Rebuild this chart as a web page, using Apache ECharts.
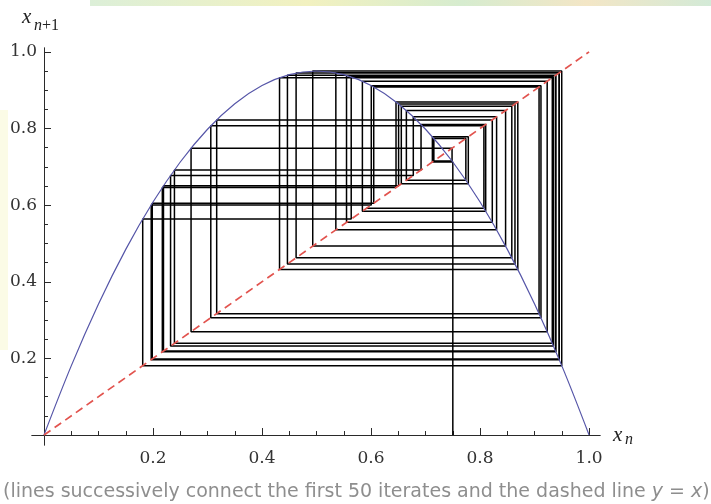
<!DOCTYPE html>
<html>
<head>
    <meta charset="utf-8" />
    <title>Logistic map cobweb</title>
    <script src="https://cdn.jsdelivr.net/npm/echarts@6/dist/echarts.min.js"></script>
    <style type="text/css">
        html,
        body {
            width: 100%;
            height: 100%;
            margin: 0;
            background: #fff;
        }

        #main {
            width: 711px;
            height: 504px;
        }
    </style>
</head>

<body>
    <div id="main"></div>
    <script>
        // iterates x0 .. x50 (x0 = 0.75)
        var iterates = [0.75, 0.7125, 0.7784, 0.6555, 0.8582, 0.4625, 0.9447, 0.1986, 0.6049, 0.9082,
            0.3168, 0.8224, 0.5550, 0.9385, 0.2192, 0.6505, 0.8640, 0.4466, 0.9392, 0.2171,
            0.6458, 0.8692, 0.4321, 0.9325, 0.2393, 0.6917, 0.8103, 0.5841, 0.9231, 0.2698,
            0.7486, 0.7152, 0.7739, 0.6648, 0.8468, 0.4930, 0.9498, 0.1811, 0.5636, 0.9346,
            0.2322, 0.6775, 0.8303, 0.5354, 0.9452, 0.1967, 0.6004, 0.9117, 0.3060, 0.8070,
            0.5919];

        // the parabola drawn in blue
        var curveX = [0, 0.05, 0.1, 0.15, 0.2, 0.25, 0.3, 0.35, 0.4, 0.45, 0.5,
            0.55, 0.6, 0.65, 0.7, 0.75, 0.8, 0.85, 0.9, 0.95, 1];
        var curveY = [0, 0.1805, 0.342, 0.4845, 0.608, 0.7125, 0.798, 0.8645, 0.912, 0.9405, 0.95,
            0.9405, 0.912, 0.8645, 0.798, 0.7125, 0.608, 0.4845, 0.342, 0.1805, 0];

        // dashed y = x
        var diagX = [0, 1];
        var diagY = [0, 1];

        var majorTicks = [0.2, 0.4, 0.6, 0.8, 1.0];
        var minorTicks = [0.05, 0.1, 0.15, 0.25, 0.3, 0.35, 0.45, 0.5, 0.55, 0.65, 0.7, 0.75, 0.85, 0.9, 0.95];

        var caption = '(lines successively connect the first 50 iterates and the dashed line ';

        // cobweb path: (x0,0) -> (x0,x1) -> (x1,x1) -> (x1,x2) ...
        var cobweb = [[iterates[0], 0]];
        for (var i = 0; i < iterates.length - 1; i++) {
            cobweb.push([iterates[i], iterates[i + 1]]);
            cobweb.push([iterates[i + 1], iterates[i + 1]]);
        }
        var curve = curveX.map(function (x, k) { return [x, curveY[k]]; });
        var diag = diagX.map(function (x, k) { return [x, diagY[k]]; });

        var axisColor = '#2a2a2a';
        var serif = 'DejaVu Serif';
        var nameFont = 'Liberation Serif';

        function makeAxis(extra) {
            var base = {
                type: 'value',
                gridIndex: 0,
                splitLine: { show: false },
                axisLine: { show: true, onZero: true, onZeroAxisIndex: 0, lineStyle: { color: axisColor, width: 1 } }
            };
            return Object.assign(base, extra);
        }

        function nameText(str, x, y, size, italic) {
            return {
                type: 'text', x: x, y: y, z: 10,
                style: {
                    text: str, fill: '#222',
                    font: (italic ? 'italic ' : '') + size + 'px "' + nameFont + '"',
                    align: 'left', verticalAlign: 'middle'
                }
            };
        }

        var myChart = echarts.init(document.getElementById('main'), null, { renderer: 'canvas' });
        var option = {
            animation: false,
            backgroundColor: '#fff',
            grid: { left: 32, right: 111, top: 48, bottom: 59, containLabel: false, outerBoundsMode: 'none' },
            xAxis: [
                makeAxis({
                    min: -0.022, max: 1.02, position: 'bottom',
                    axisTick: { show: true, inside: true, length: 7, customValues: majorTicks, lineStyle: { color: axisColor } },
                    axisLabel: {
                        show: true, customValues: majorTicks, margin: 5,
                        fontFamily: serif, fontSize: 17, color: '#333',
                        formatter: function (v) { return v.toFixed(1); }
                    }
                }),
                makeAxis({
                    min: -0.022, max: 1.02, position: 'bottom',
                    axisTick: { show: true, inside: true, length: 4, customValues: minorTicks, lineStyle: { color: axisColor } },
                    axisLabel: { show: false }
                })
            ],
            yAxis: [
                makeAxis({
                    min: -0.026, max: 1.01, position: 'left',
                    axisTick: { show: true, inside: true, length: 7, customValues: majorTicks, lineStyle: { color: axisColor } },
                    axisLabel: {
                        show: true, customValues: majorTicks, margin: -5,
                        fontFamily: serif, fontSize: 17, color: '#333',
                        formatter: function (v) { return v.toFixed(1); }
                    }
                }),
                makeAxis({
                    min: -0.026, max: 1.01, position: 'left',
                    axisTick: { show: true, inside: true, length: 4, customValues: minorTicks, lineStyle: { color: axisColor } },
                    axisLabel: { show: false }
                })
            ],
            series: [
                {
                    name: 'cobweb', type: 'line', data: cobweb,
                    xAxisIndex: 0, yAxisIndex: 0,
                    showSymbol: false, symbol: 'none',
                    lineStyle: { color: '#000', width: 1.5 },
                    z: 2
                },
                {
                    name: 'map', type: 'line', data: curve, smooth: 0.35,
                    xAxisIndex: 0, yAxisIndex: 0,
                    showSymbol: false, symbol: 'none',
                    lineStyle: { color: '#5656a8', width: 1.2 },
                    z: 3
                },
                {
                    name: 'y = x', type: 'line', data: diag,
                    xAxisIndex: 0, yAxisIndex: 0,
                    showSymbol: false, symbol: 'none',
                    lineStyle: { color: '#e2544f', width: 1.7, type: [8, 5] },
                    z: 4
                }
            ],
            graphic: [
                {
                    type: 'rect', left: 90, top: 0, z: -1,
                    shape: { width: 621, height: 6 },
                    style: {
                        fill: new echarts.graphic.LinearGradient(0, 0, 1, 0, [
                            { offset: 0, color: '#dcefd8' },
                            { offset: 0.35, color: '#f2f1c0' },
                            { offset: 0.6, color: '#d6eccf' },
                            { offset: 0.8, color: '#f3e6c6' },
                            { offset: 1, color: '#d3ead7' }
                        ])
                    }
                },
                {
                    type: 'rect', left: 0, top: 110, z: -1,
                    shape: { width: 8, height: 240 },
                    style: { fill: '#fbfbe6' }
                },
                // axis names: x_{n+1} (vertical) and x_n (horizontal)
                nameText('x', 22, 17, 21, true),
                nameText('n', 34, 26, 16, true),
                nameText('+1', 42, 26, 16, false),
                nameText('x', 613, 435, 21, true),
                nameText('n', 625, 440, 16, true),
                {
                    type: 'text', left: 3, top: 483,
                    style: {
                        text: caption + '{i|y} = {i|x})',
                        fontFamily: 'DejaVu Sans', fontSize: 19, fill: '#8e8e8e',
                        rich: {
                            i: { fontFamily: 'DejaVu Sans', fontStyle: 'italic', fontSize: 19, color: '#8e8e8e' }
                        }
                    }
                }
            ]
        };
        myChart.setOption(option);
    </script>
</body>
</html>
